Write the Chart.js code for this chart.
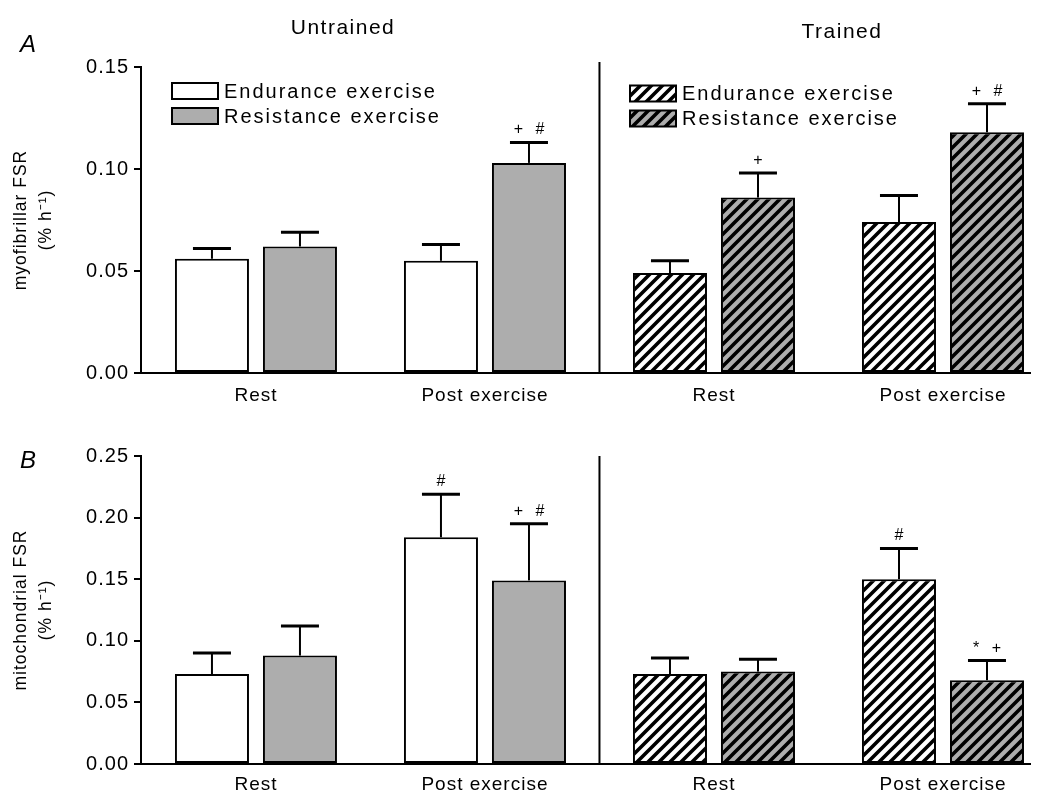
<!DOCTYPE html>
<html>
<head>
<meta charset="utf-8">
<script src="https://cdn.jsdelivr.net/npm/chart.js@4.4.1/dist/chart.umd.min.js"></script>
<style>
  html, body { margin: 0; padding: 0; background: #fff; }
  #wrap { position: relative; width: 1055px; height: 798px; }
  canvas { position: absolute; left: 0; }
  #cA { top: 0; }
  #cB { top: 420px; }
</style>
</head>
<body>
<div id="wrap">
  <canvas id="cA" width="1055" height="420"></canvas>
  <canvas id="cB" width="1055" height="378"></canvas>
</div>
<script>
// ---- data -------------------------------------------------------------
const categories = ['Rest', 'Post exercise', 'Rest', 'Post exercise'];
const categoryGroup = [0, 0, 1, 1];            // 0 = untrained, 1 = trained
const groups = ['Untrained', 'Trained'];
const seriesNames = ['Endurance exercise', 'Resistance exercise'];

// Panel A: myofibrillar FSR (% h-1), mean and SEM
const myoEndurance      = [0.056, 0.055, 0.049, 0.074];
const myoEnduranceSem   = [0.005, 0.008, 0.006, 0.013];
const myoResistance     = [0.062, 0.103, 0.086, 0.118];
const myoResistanceSem  = [0.007, 0.010, 0.012, 0.014];
const myoEnduranceMarks = ['', '', '', ''];
const myoResistanceMarks = ['', '+ #', '+', '+ #'];
const myoTicks = [0, 0.05, 0.10, 0.15];

// Panel B: mitochondrial FSR (% h-1), mean and SEM
const mitoEndurance      = [0.073, 0.184, 0.073, 0.150];
const mitoEnduranceSem   = [0.017, 0.035, 0.013, 0.025];
const mitoResistance     = [0.088, 0.149, 0.075, 0.068];
const mitoResistanceSem  = [0.024, 0.046, 0.010, 0.016];
const mitoEnduranceMarks = ['', '#', '', '#'];
const mitoResistanceMarks = ['', '+ #', '', '* +'];
const mitoTicks = [0, 0.05, 0.10, 0.15, 0.20, 0.25];

// ---- styling ----------------------------------------------------------
const FONT = "'Liberation Sans', Arial, Helvetica, sans-serif";
const WHITE = '#ffffff';
const GREY = '#adadad';

function hatch(bg) {
  const p = 11;
  const c = document.createElement('canvas');
  c.width = p; c.height = p;
  const g = c.getContext('2d');
  g.fillStyle = bg;
  g.fillRect(0, 0, p, p);
  g.strokeStyle = '#000';
  g.lineWidth = 3.6;
  g.lineCap = 'square';
  for (const k of [-1, 0, 1]) {
    g.beginPath();
    g.moveTo(k * p, p);
    g.lineTo(k * p + p, 0);
    g.stroke();
  }
  return g.createPattern(c, 'repeat');
}
const fills = [
  { plain: WHITE, striped: hatch(WHITE) },
  { plain: GREY,  striped: hatch(GREY) }
];
const fillFor = s => categoryGroup.map(g => g === 1 ? fills[s].striped : fills[s].plain);

// Letter spacing used for all library-drawn text
const spacing = {
  id: 'spacing',
  beforeUpdate(c) { c.ctx.letterSpacing = '1px'; },
  beforeLayout(c) { c.ctx.letterSpacing = '1px'; },
  beforeDraw(c) { c.ctx.letterSpacing = '1px'; }
};

// Error bars, significance marks, group divider, headings and legend
const decor = {
  id: 'decor',
  afterDatasetsDraw(chart, args, opts) {
    const { ctx, chartArea } = chart;
    const xs = chart.scales.x, ys = chart.scales.y;
    ctx.save();
    // divider between untrained and trained groups
    const split = xs.getPixelForValue((categoryGroup.lastIndexOf(0) + categoryGroup.indexOf(1)) / 2);
    ctx.strokeStyle = '#000';
    ctx.lineWidth = 2;
    ctx.beginPath();
    ctx.moveTo(split, chartArea.top - opts.dividerRise);
    ctx.lineTo(split, chartArea.bottom);
    ctx.stroke();

    chart.data.datasets.forEach((ds, di) => {
      const meta = chart.getDatasetMeta(di);
      meta.data.forEach((bar, i) => {
        const v = ds.data[i].y;
        const top = ys.getPixelForValue(v + ds.sem[i]);
        const base = ys.getPixelForValue(v);
        ctx.strokeStyle = '#000';
        ctx.lineWidth = 2;
        ctx.beginPath();
        ctx.moveTo(bar.x, base);
        ctx.lineTo(bar.x, top);
        ctx.stroke();
        ctx.lineWidth = 3;
        ctx.beginPath();
        ctx.moveTo(bar.x - 19, top);
        ctx.lineTo(bar.x + 19, top);
        ctx.stroke();
        const m = ds.marks[i];
        if (m) {
          ctx.fillStyle = '#000';
          ctx.font = '16px ' + FONT;
          ctx.letterSpacing = '4px';
          ctx.textAlign = 'center';
          ctx.textBaseline = 'alphabetic';
          ctx.fillText(m, bar.x + 2, top - 8);
        }
      });
    });
    ctx.restore();
  },
  afterDraw(chart, args, opts) {
    const { ctx } = chart;
    ctx.save();
    ctx.fillStyle = '#000';
    // panel letter
    ctx.font = 'italic 24px ' + FONT;
    ctx.letterSpacing = '0px';
    ctx.textAlign = 'left';
    ctx.textBaseline = 'middle';
    ctx.fillText(opts.letter.text, opts.letter.x, opts.letter.y);
    // group headings
    ctx.font = '21px ' + FONT;
    ctx.letterSpacing = '1.5px';
    ctx.textAlign = 'center';
    (opts.headings || []).forEach(h => ctx.fillText(h.text, h.x, h.y));
    // legends
    (opts.legends || []).forEach(lg => {
      seriesNames.forEach((name, s) => {
        const y = lg.y + s * 25;
        ctx.fillStyle = lg.striped ? fills[s].striped : fills[s].plain;
        ctx.fillRect(lg.x, y - 8, 46, 16);
        ctx.strokeStyle = '#000';
        ctx.lineWidth = 2;
        ctx.strokeRect(lg.x, y - 8, 46, 16);
        ctx.fillStyle = '#000';
        ctx.font = '20px ' + FONT;
        ctx.letterSpacing = '2px';
        ctx.textAlign = 'left';
        ctx.textBaseline = 'middle';
        ctx.fillText(name, lg.x + 52, y + 1);
      });
    });
    ctx.restore();
  }
};

function datasetsFor(endVals, endSem, endMarks, resVals, resSem, resMarks) {
  const build = (vals, sem, marks, s) => ({
    label: seriesNames[s],
    data: vals.map((v, i) => ({ x: i, y: v })),
    sem: sem,
    marks: marks,
    backgroundColor: fillFor(s),
    borderColor: '#000',
    borderWidth: 2,
    borderSkipped: false,
    categoryPercentage: 0.7686,
    barPercentage: 0.841
  });
  return [build(endVals, endSem, endMarks, 0), build(resVals, resSem, resMarks, 1)];
}

function makeChart(id, cfg) {
  return new Chart(document.getElementById(id), {
    type: 'bar',
    data: { datasets: cfg.datasets },
    plugins: [spacing, decor],
    options: {
      responsive: false,
      animation: false,
      devicePixelRatio: 1,
      layout: { padding: { top: cfg.padTop, right: 25, left: 0, bottom: 0 } },
      plugins: {
        legend: { display: false },
        tooltip: { enabled: false },
        decor: cfg.decor
      },
      scales: {
        x: {
          type: 'linear',
          offset: false,
          min: -0.502,
          max: 3.38,
          afterBuildTicks: s => { s.ticks = categories.map((_, i) => ({ value: i })); },
          ticks: {
            callback: v => categories[v],
            color: '#000',
            font: { family: FONT, size: 19 },
            padding: cfg.xPad,
            autoSkip: false,
            maxRotation: 0
          },
          grid: { display: false, drawTicks: false, offset: false },
          border: { display: true, color: '#000', width: 2 },
          afterFit: s => { s.height = cfg.xHeight; }
        },
        y: {
          min: 0,
          max: cfg.ticks[cfg.ticks.length - 1],
          afterBuildTicks: s => { s.ticks = cfg.ticks.map(v => ({ value: v })); },
          ticks: {
            callback: v => v.toFixed(2),
            color: '#000',
            font: { family: FONT, size: 20 },
            padding: 5
          },
          grid: {
            display: true, drawOnChartArea: false, drawTicks: true,
            tickLength: 7, color: '#000', lineWidth: 2
          },
          border: { display: true, color: '#000', width: 2 },
          title: {
            display: true,
            text: cfg.title,
            color: '#000',
            font: { family: FONT, size: 17.5, lineHeight: 1.45 },
            padding: { top: 8, bottom: 0 }
          },
          afterFit: s => { s.width = 141; }
        }
      }
    }
  });
}

makeChart('cA', {
  datasets: datasetsFor(myoEndurance, myoEnduranceSem, myoEnduranceMarks,
                        myoResistance, myoResistanceSem, myoResistanceMarks),
  ticks: myoTicks,
  title: ['myofibrillar FSR', '(% h\u207B\u00B9)'],
  padTop: 67, xHeight: 47, xPad: 11,
  decor: {
    dividerRise: 5,
    letter: { text: 'A', x: 20, y: 45 },
    headings: [{ text: groups[0], x: 343, y: 28 }, { text: groups[1], x: 842, y: 32 }],
    legends: [{ x: 172, y: 91, striped: false }, { x: 630, y: 93.5, striped: true }]
  }
});

makeChart('cB', {
  datasets: datasetsFor(mitoEndurance, mitoEnduranceSem, mitoEnduranceMarks,
                        mitoResistance, mitoResistanceSem, mitoResistanceMarks),
  ticks: mitoTicks,
  title: ['mitochondrial FSR', '(% h\u207B\u00B9)'],
  padTop: 36, xHeight: 34, xPad: 9,
  decor: {
    dividerRise: 0,
    letter: { text: 'B', x: 20, y: 41 }
  }
});
</script>
</body>
</html>
